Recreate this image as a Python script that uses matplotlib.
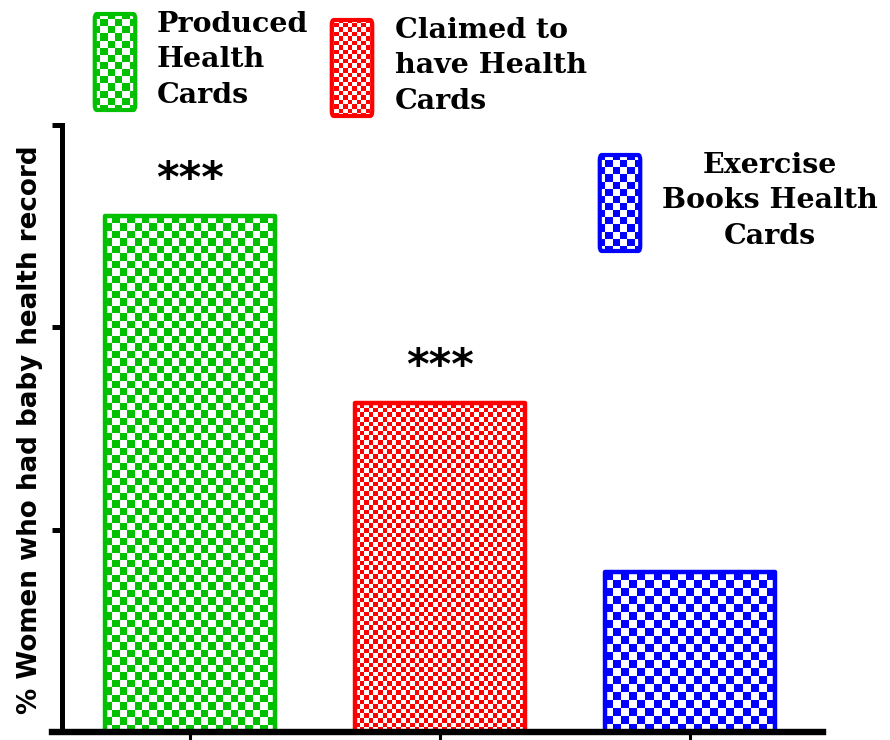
import numpy as np
import matplotlib
matplotlib.use("Agg")
import matplotlib.pyplot as plt
from matplotlib.colors import ListedColormap
from matplotlib.patches import FancyBboxPatch

# data (no y tick labels in the original, values read as % on a 0-60 scale)
categories = ["Produced\nHealth\nCards", "Claimed to\nhave Health\nCards", "Exercise\nBooks Health\nCards"]
values = [51.0, 32.5, 15.8]
significance = ["***", "***", ""]
colors = ["#00c000", "#ff0000", "#0000ff"]
cell_px = [7.5, 4.6, 8.0]  # checker square size in pixels

W, H = 890, 740
fig = plt.figure(figsize=(W / 100, H / 100), dpi=100)

# axes: x from 52px to 823px, y from 125px (top) to 732px (bottom)
ax = fig.add_axes([52 / W, (H - 732) / H, (823 - 52) / W, (732 - 125) / H])
xlim = (-0.552, 2.532)
ylim = (0, 60)


def checker(axis, x0, x1, y0, y1, w_px, h_px, color, cell, clip):
    nc = max(1, int(round(w_px / cell)))
    nr = max(1, int(round(h_px / cell)))
    ii, jj = np.indices((nr, nc))
    arr = (ii + jj) % 2
    im = axis.imshow(arr, cmap=ListedColormap(["white", color]), extent=(x0, x1, y0, y1),
                     origin="lower", aspect="auto", interpolation="nearest", zorder=1)
    im.set_clip_path(clip)
    return im


x = np.arange(len(values))
width = 0.68
bars = ax.bar(x, values, width=width, facecolor="none", edgecolor=colors,
              linewidth=3.2, joinstyle="round", zorder=2)
ax.set_xlim(*xlim)
ax.set_ylim(*ylim)

px_x = (823 - 52) / (xlim[1] - xlim[0])
px_y = (732 - 125) / (ylim[1] - ylim[0])
for b, c, cs in zip(bars, colors, cell_px):
    bx0 = b.get_x()
    bx1 = bx0 + b.get_width()
    checker(ax, bx0, bx1, 0, b.get_height(), b.get_width() * px_x, b.get_height() * px_y, c, cs, b)
ax.set_xlim(*xlim)
ax.set_ylim(*ylim)

# significance stars
for b, s in zip(bars, significance):
    if s:
        ax.annotate(s, (b.get_x() + b.get_width() / 2, b.get_height()), xytext=(0, 11),
                    textcoords="offset points", ha="center", va="bottom",
                    fontsize=31, fontweight="bold", family="DejaVu Sans")

# spines and ticks
for s in ["top", "right"]:
    ax.spines[s].set_visible(False)
ax.spines["left"].set_position(("data", -0.512))
ax.spines["left"].set_linewidth(3.6)
ax.spines["bottom"].set_linewidth(4.6)
ax.set_yticks([0, 20, 40, 60])
ax.set_yticklabels([])
ax.set_xticks(x)
ax.set_xticklabels([])
ax.tick_params(axis="y", length=7, width=3.6, direction="out")
ax.tick_params(axis="x", length=6, width=2.2, direction="out")
ax.set_ylabel("% Women who had baby health record", fontsize=18.8, fontweight="heavy",
              family="DejaVu Sans")
ax.yaxis.set_label_coords(43 / W, (H - 430) / H, transform=fig.transFigure)

# legend swatches placed like the original
swatches = [(93, 12), (330, 18), (598, 153)]
legend_cells = [7.0, 4.6, 7.0]
text_pos = [(157, 11, "left"), (395, 17, "left"), (770, 152, "center")]
for (sx, sy), c, cs, lab, (tx, ty, ha) in zip(swatches, colors, legend_cells, categories, text_pos):
    sw, sh = 44, 100
    lax = fig.add_axes([sx / W, (H - sy - sh) / H, sw / W, sh / H])
    lax.set_xlim(0, 1)
    lax.set_ylim(0, 1)
    lax.axis("off")
    box = FancyBboxPatch((0.04, 0.02), 0.92, 0.96, boxstyle="round,pad=0,rounding_size=0.05",
                         facecolor="none", edgecolor=c, linewidth=3.0,
                         transform=lax.transAxes, zorder=2, clip_on=False)
    lax.add_patch(box)
    checker(lax, 0, 1, 0, 1, sw, sh, c, cs, box)
    lax.set_xlim(0, 1)
    lax.set_ylim(0, 1)
    fig.text(tx / W, 1 - ty / H, lab, ha=ha, va="top", fontsize=20.5, fontweight="bold",
             family="DejaVu Serif", linespacing=1.4, multialignment="center" if ha == "center" else "left")

fig.savefig("out.png", dpi=100)
